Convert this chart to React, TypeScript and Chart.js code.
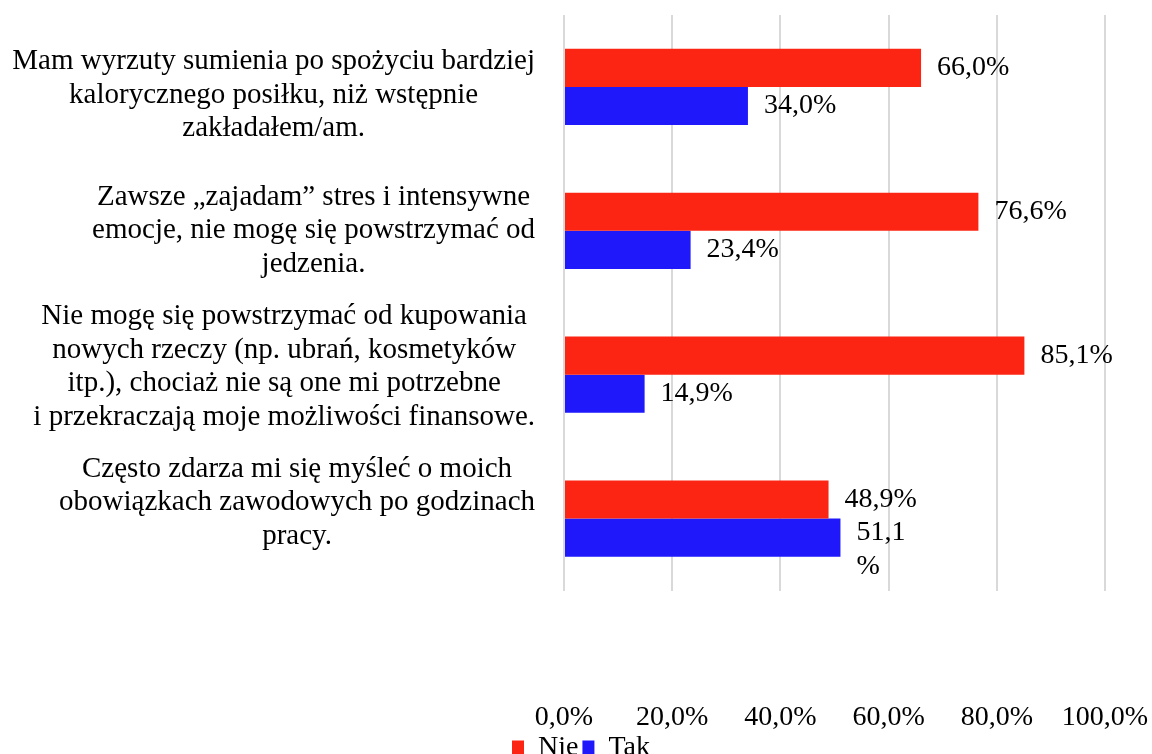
import React, { useEffect, useRef } from "react";
import { Chart, registerables } from "chart.js";

Chart.register(...registerables);

const categories: string[][] = [
  ["Mam wyrzuty sumienia po spożyciu bardziej", "kalorycznego posiłku, niż wstępnie", "zakładałem/am."],
  ["Zawsze „zajadam” stres i intensywne", "emocje, nie mogę się powstrzymać od", "jedzenia."],
  [
    "Nie mogę się powstrzymać od kupowania",
    "nowych rzeczy (np. ubrań, kosmetyków",
    "itp.), chociaż nie są one mi potrzebne",
    "i przekraczają moje możliwości finansowe.",
  ],
  ["Często zdarza mi się myśleć o moich", "obowiązkach zawodowych po godzinach", "pracy."],
];
const seriesNames = ["Nie", "Tak"];
const nieValues = [66.0, 76.6, 85.1, 48.9];
const takValues = [34.0, 23.4, 14.9, 51.1];
const nieLabels = ["66,0%", "76,6%", "85,1%", "48,9%"];
const takLabels = ["34,0%", "23,4%", "14,9%", "51,1\n%"];
const xTicks = [0, 20, 40, 60, 80, 100];

const FONT = '"Liberation Serif", "Times New Roman", serif';
const CAT_FS = 29;
const FS = 28;

const labelPlugin = {
  id: "customLabels",
  afterDatasetsDraw(chart: any) {
    const ctx = chart.ctx as CanvasRenderingContext2D;
    const yScale = chart.scales.y;
    const area = chart.chartArea;
    ctx.save();
    ctx.fillStyle = "#000";
    ctx.textBaseline = "middle";
    ctx.textAlign = "center";
    ctx.font = `${CAT_FS}px ${FONT}`;
    const first = yScale.getPixelForValue(0);
    const last = yScale.getPixelForValue(categories.length - 1);
    const mid = (first + last) / 2;
    categories.forEach((lines, i) => {
      const cy = mid - 4 + (yScale.getPixelForValue(i) - mid) * 0.944;
      const widest = Math.max(...lines.map((l) => ctx.measureText(l).width));
      const cx = area.left - 29 - widest / 2;
      const lh = 33.5;
      const top = cy - ((lines.length - 1) * lh) / 2;
      lines.forEach((l, j) => ctx.fillText(l, cx, top + j * lh));
    });
    ctx.textAlign = "left";
    ctx.font = `${FS}px ${FONT}`;
    chart.data.datasets.forEach((_ds: any, di: number) => {
      const meta = chart.getDatasetMeta(di);
      const texts = di === 0 ? nieLabels : takLabels;
      meta.data.forEach((bar: any, i: number) => {
        const lines = texts[i].split("\n");
        const lh = 34;
        const top = lines.length > 1 ? bar.y - 5 : bar.y;
        lines.forEach((l, j) => ctx.fillText(l, bar.x + 16, top + j * lh));
      });
    });
    ctx.restore();
  },
};

export default function App() {
  const ref = useRef<HTMLCanvasElement | null>(null);
  useEffect(() => {
    if (!ref.current) return;
    const chart = new Chart(ref.current, {
      type: "bar",
      data: {
        labels: categories.map((c) => c.join(" ")),
        datasets: [
          {
            label: seriesNames[0],
            data: nieValues,
            backgroundColor: "#FC2412",
            barPercentage: 1,
            categoryPercentage: 0.53,
          },
          {
            label: seriesNames[1],
            data: takValues,
            backgroundColor: "#1E18FA",
            barPercentage: 1,
            categoryPercentage: 0.53,
          },
        ],
      },
      options: {
        indexAxis: "y",
        responsive: false,
        animation: false,
        layout: { padding: { top: 15, left: 10, right: 0, bottom: 0 } },
        scales: {
          x: {
            min: 0,
            max: 100,
            afterBuildTicks: (scale: any) => {
              scale.ticks = xTicks.map((v) => ({ value: v }));
            },
            afterFit: (scale: any) => {
              scale.height = 139.5;
              scale.paddingLeft = 0;
              scale.paddingRight = 47;
            },
            ticks: {
              autoSkip: false,
              maxRotation: 0,
              padding: 113,
              color: "#000",
              font: { family: FONT, size: FS, lineHeight: 1 },
              callback: (v: any) => Number(v).toFixed(1).replace(".", ",") + "%",
            },
            grid: { color: "#d9d9d9", lineWidth: 2, drawTicks: false },
            border: { display: false },
          },
          y: {
            afterFit: (scale: any) => {
              scale.width = 554;
            },
            ticks: { display: false },
            grid: { display: false },
            border: { display: false },
          },
        },
        plugins: {
          legend: {
            position: "bottom",
            labels: {
              color: "#000",
              font: { family: FONT, size: FS },
              boxWidth: 12,
              boxHeight: 15,
              padding: 4,
            },
          },
          tooltip: { enabled: false },
        },
      },
      plugins: [labelPlugin],
    } as any);
    return () => chart.destroy();
  }, []);
  return (
    <div style={{ position: "fixed", left: 0, top: 0, width: 1152, height: 772, background: "#fff" }}>
      <canvas ref={ref} width={1152} height={772} style={{ display: "block" }} />
    </div>
  );
}
